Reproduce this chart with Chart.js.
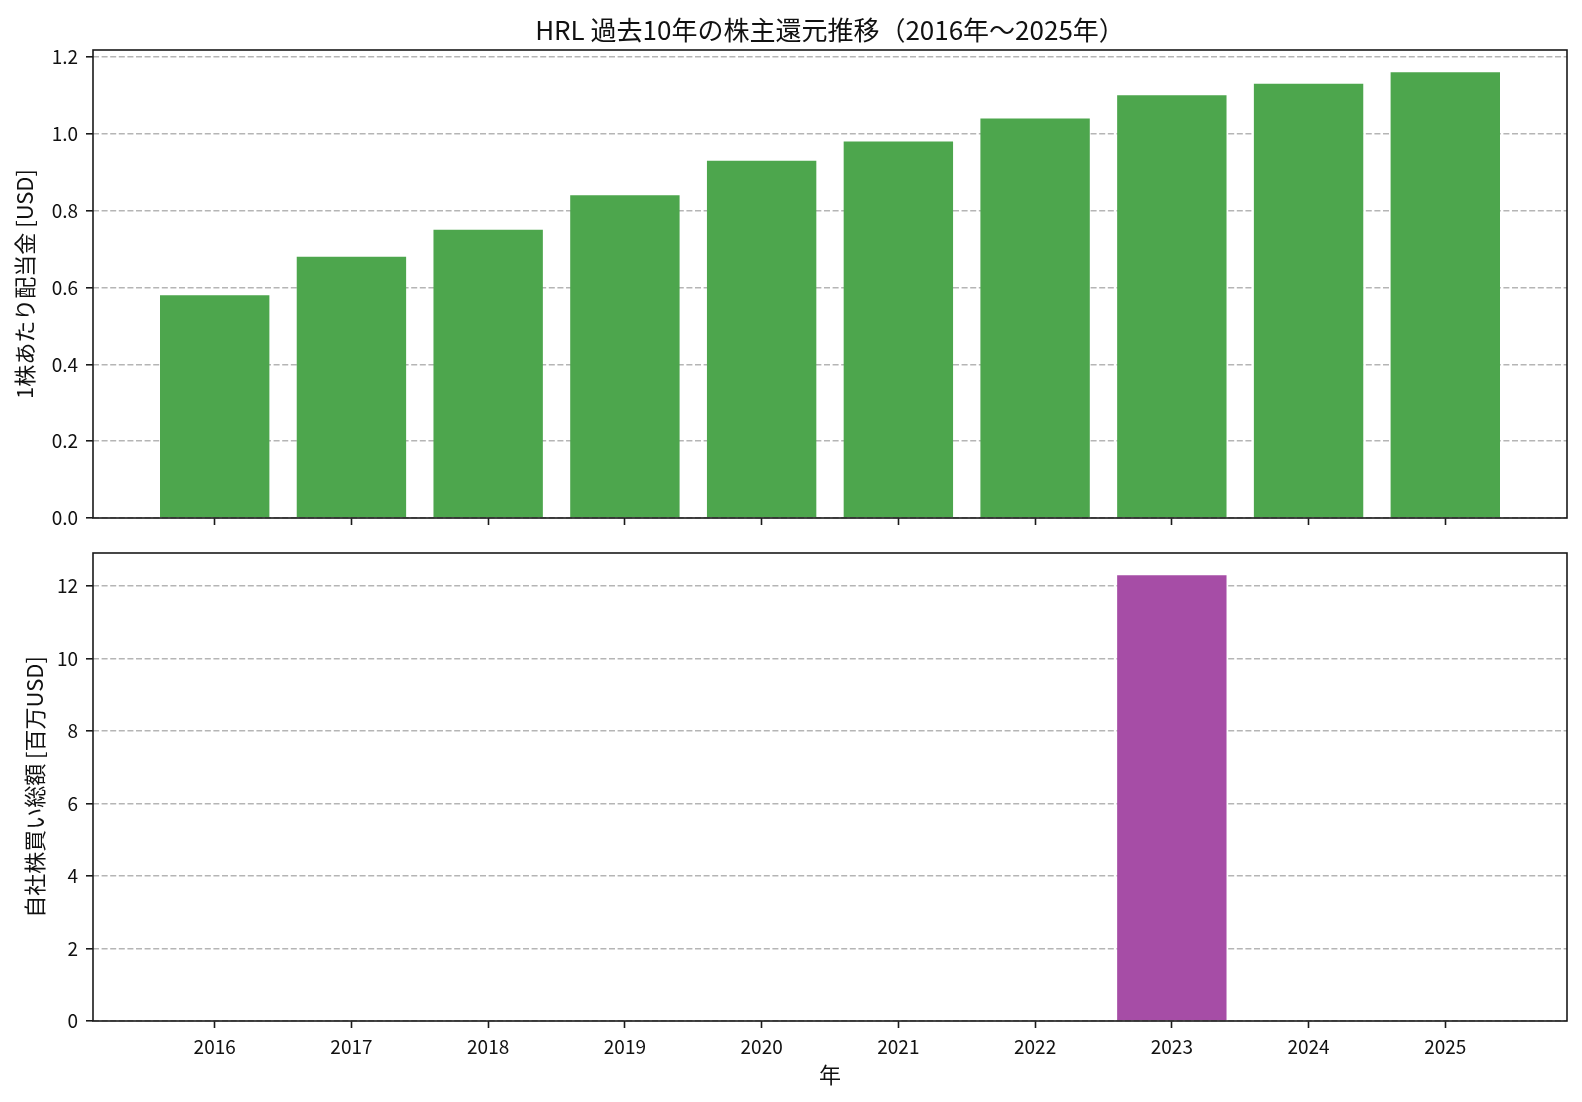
<!DOCTYPE html>
<html>
<head>
<meta charset="utf-8">
<script src="https://cdn.jsdelivr.net/npm/chart.js@4.4.1/dist/chart.umd.min.js"></script>
<style>
  html, body { margin: 0; padding: 0; background: #fff; }
  #wrap { position: relative; width: 1582px; height: 1102px; }
  .box { position: absolute; left: 0; width: 1582px; }
  #top { top: 0; height: 540px; }
  #bottom { top: 540px; height: 562px; }
</style>
</head>
<body>
<div id="wrap">
  <div class="box" id="top"><canvas id="divChart" width="1582" height="540"></canvas></div>
  <div class="box" id="bottom"><canvas id="buybackChart" width="1582" height="562"></canvas></div>
</div>
<script>
// データ
const years = ['2016', '2017', '2018', '2019', '2020', '2021', '2022', '2023', '2024', '2025'];
const dividends = [0.58, 0.68, 0.75, 0.84, 0.93, 0.98, 1.04, 1.10, 1.13, 1.16];
const buybacks = [0, 0, 0, 0, 0, 0, 0, 12.3, 0, 0];
const dividendTicks = [0, 0.2, 0.4, 0.6, 0.8, 1.0, 1.2];
const buybackTicks = [0, 2, 4, 6, 8, 10, 12];

const FONT = "'Noto Sans CJK JP', 'Noto Sans', sans-serif";
const INK = '#111';
const AXIS_W = 93;

Chart.defaults.font.family = FONT;
Chart.defaults.color = INK;

// 枠線
const framePlugin = {
  id: 'frame',
  afterDraw(chart) {
    const a = chart.chartArea;
    const ctx = chart.ctx;
    ctx.save();
    ctx.lineWidth = 1.6;
    ctx.strokeStyle = '#1a1a1a';
    ctx.strokeRect(a.left, a.top, a.right - a.left, a.bottom - a.top);
    ctx.restore();
  }
};

// タイトル (軸の中央に)
const headerPlugin = {
  id: 'header',
  afterDraw(chart, args, opts) {
    if (!opts.text) return;
    const a = chart.chartArea;
    const ctx = chart.ctx;
    ctx.save();
    ctx.font = '26px ' + FONT;
    ctx.fillStyle = INK;
    ctx.textAlign = 'center';
    ctx.textBaseline = 'middle';
    ctx.fillText(opts.text, (a.left + a.right) / 2, opts.y);
    ctx.restore();
  }
};

function makeChart(id, values, color, yTicks, yMax, yTitle, yTitlePad, opts) {
  const ctx = document.getElementById(id).getContext('2d');
  return new Chart(ctx, {
    type: 'bar',
    data: {
      datasets: [{
        data: values.map((v, i) => ({ x: i, y: v })),
        backgroundColor: color,
        borderWidth: 0,
        categoryPercentage: 1.0,
        barPercentage: 0.8
      }]
    },
    options: {
      responsive: false,
      animation: false,
      layout: { padding: { left: 0, right: 15, top: opts.padTop, bottom: 0 } },
      plugins: {
        legend: { display: false },
        tooltip: { enabled: false },
        header: { text: opts.title || '', y: 30 }
      },
      scales: {
        x: {
          type: 'linear',
          offset: false,
          min: -0.89,
          max: 9.89,
          afterBuildTicks: (s) => { s.ticks = years.map((y, i) => ({ value: i })); },
          afterFit: (s) => {
            s.height = opts.xHeight;
            s.paddingLeft = 0;
            s.paddingRight = 0;
          },
          border: { display: false },
          grid: {
            offset: false,
            drawOnChartArea: false,
            drawTicks: true,
            tickLength: 7,
            tickWidth: 1.6,
            tickColor: '#1a1a1a'
          },
          ticks: {
            display: opts.showX,
            autoSkip: false,
            maxRotation: 0,
            padding: 7,
            font: { size: 19 },
            color: INK,
            callback: (v) => years[v]
          },
          title: {
            display: opts.showX,
            text: '年',
            font: { size: 22 },
            color: INK,
            padding: { top: 0, bottom: 14 }
          }
        },
        y: {
          min: 0,
          max: yMax,
          z: 1,
          afterBuildTicks: (s) => { s.ticks = yTicks.map(v => ({ value: v })); },
          afterFit: (s) => {
            s.width = AXIS_W;
            s.paddingTop = 0;
            s.paddingBottom = 0;
          },
          border: { display: false, dash: [6, 2.6] },
          grid: {
            color: '#b5b5b5',
            lineWidth: 1.6,
            drawTicks: true,
            tickLength: 7,
            tickWidth: 1.6,
            tickColor: '#1a1a1a'
          },
          ticks: {
            padding: 8,
            font: { size: 19 },
            color: INK,
            callback: opts.fmt
          },
          title: {
            display: true,
            text: yTitle,
            font: { size: 22 },
            color: INK,
            padding: { top: yTitlePad, bottom: 0 }
          }
        }
      }
    },
    plugins: [framePlugin, headerPlugin]
  });
}

makeChart('divChart', dividends, 'rgb(77,166,77)', dividendTicks, 1.218,
  '1株あたり配当金 [USD]', 11, {
    padTop: 50, xHeight: 22, showX: false,
    title: 'HRL 過去10年の株主還元推移（2016年～2025年）',
    fmt: (v) => v.toFixed(1)
  });

makeChart('buybackChart', buybacks, 'rgb(166,77,166)', buybackTicks, 12.915,
  '自社株買い総額 [百万USD]', 21, {
    padTop: 13, xHeight: 81, showX: true,
    fmt: (v) => String(v)
  });
</script>
</body>
</html>
